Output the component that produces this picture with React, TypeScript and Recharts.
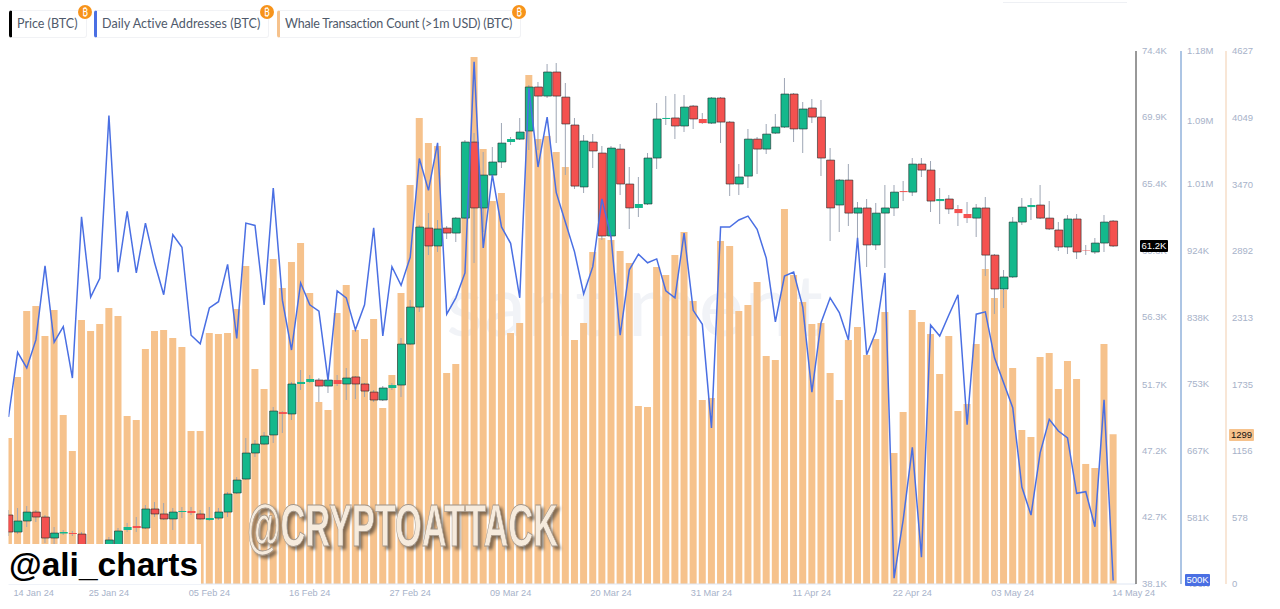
import React from 'react';
import { ComposedChart, Bar, Line, XAxis, YAxis, Cell } from 'recharts';

// day 0 is 14 Jan 24, one entry per day up to 14 May 24
const opens = [
  42.80, 41.64, 42.39, 43.00, 42.66, 41.23, 41.54, 41.57, 41.50, 40.28, 40.55, 39.73, 40.55, 41.78, 42.05, 41.91,
  43.21, 42.87, 42.53, 43.00, 43.07, 42.87, 42.46, 42.59, 43.00, 44.30, 45.25, 47.02, 47.63, 48.25, 49.81, 49.68,
  51.72, 51.86, 51.99, 51.58, 51.99, 51.72, 52.20, 51.72, 51.17, 50.63, 51.45, 51.65, 54.44, 56.96, 62.34, 61.12,
  62.34, 62.00, 63.02, 68.20, 63.71, 65.95, 66.84, 68.20, 68.40, 68.95, 71.95, 71.33, 72.97, 71.26, 69.36, 65.14,
  68.20, 67.45, 61.80, 67.72, 65.34, 63.71, 63.98, 67.11, 69.77, 69.84, 69.29, 70.65, 69.77, 69.49, 71.20, 69.56,
  65.34, 65.88, 68.40, 67.72, 68.81, 69.22, 71.47, 69.09, 70.52, 69.90, 66.97, 63.91, 65.61, 63.36, 63.71, 61.19,
  63.36, 63.71, 64.86, 64.79, 66.70, 66.29, 64.18, 64.32, 63.64, 63.30, 63.02, 63.71, 60.50, 58.19, 59.01, 62.75,
  63.77, 63.91, 63.02, 62.21, 61.05, 62.96, 60.84, 60.71, 61.32, 62.82,
];
const closes = [
  41.64, 42.39, 43.00, 42.66, 41.23, 41.57, 41.64, 41.50, 40.55, 40.55, 39.73, 41.10, 41.71, 41.98, 41.91, 43.21,
  42.87, 42.53, 43.00, 43.07, 42.93, 42.53, 42.59, 43.00, 44.23, 45.18, 47.02, 47.63, 48.18, 49.88, 49.68, 51.72,
  51.86, 52.06, 51.58, 51.99, 51.72, 52.13, 51.72, 51.24, 50.63, 51.45, 51.65, 54.44, 56.96, 62.41, 61.12, 62.28,
  62.00, 63.02, 68.20, 63.71, 65.95, 66.84, 68.13, 68.40, 68.88, 71.95, 71.33, 72.97, 71.33, 69.43, 65.20, 68.27,
  67.59, 61.80, 67.79, 65.34, 63.71, 63.98, 67.11, 69.77, 69.84, 69.29, 70.58, 69.77, 69.49, 71.20, 69.56, 65.34,
  65.82, 68.40, 67.72, 68.74, 69.22, 71.47, 69.09, 70.45, 69.90, 67.11, 63.71, 65.61, 63.36, 63.71, 61.19, 63.36,
  63.71, 64.79, 64.79, 66.70, 66.29, 64.18, 64.32, 63.64, 63.36, 63.02, 63.71, 60.50, 58.19, 59.01, 62.75, 63.77,
  63.91, 63.02, 62.28, 61.05, 62.96, 60.71, 60.81, 61.32, 62.75, 61.12,
];
const highs = [
  43.14, 43.28, 43.41, 43.14, 42.80, 41.98, 41.78, 41.71, 41.64, 40.76, 40.76, 41.30, 41.91, 42.25, 42.66, 43.48,
  43.68, 43.62, 43.28, 43.34, 43.34, 43.14, 43.34, 43.28, 44.37, 45.39, 48.04, 47.91, 48.45, 50.15, 49.88, 51.86,
  52.67, 52.33, 52.13, 52.13, 52.33, 52.81, 52.27, 51.79, 51.31, 51.58, 51.79, 54.85, 57.44, 62.55, 63.36, 62.89,
  62.48, 63.09, 68.34, 68.81, 67.52, 67.86, 69.49, 68.54, 69.83, 72.08, 72.29, 73.51, 73.58, 72.22, 69.83, 68.68,
  68.74, 67.93, 67.93, 68.06, 66.50, 65.82, 67.45, 70.86, 71.33, 71.47, 71.40, 70.72, 70.17, 71.26, 71.26, 69.63,
  66.70, 69.09, 68.54, 69.43, 70.11, 72.56, 71.54, 70.92, 71.13, 71.06, 67.79, 65.68, 66.70, 64.11, 64.32, 64.05,
  65.27, 65.27, 65.54, 67.11, 67.11, 66.91, 65.07, 64.59, 63.91, 64.11, 63.98, 64.45, 60.57, 59.48, 63.09, 64.39,
  64.39, 65.27, 64.18, 62.75, 63.23, 63.30, 61.19, 61.66, 63.23, 62.89,
];
const lows = [
  41.37, 41.50, 41.98, 42.32, 40.89, 40.76, 41.44, 41.37, 40.28, 40.01, 39.50, 39.50, 40.28, 41.64, 41.64, 41.84,
  42.66, 42.46, 41.78, 42.59, 42.80, 42.46, 42.39, 42.46, 42.66, 44.23, 45.18, 46.75, 47.56, 47.70, 48.38, 49.27,
  51.31, 51.79, 50.49, 51.11, 51.58, 50.63, 50.70, 50.83, 50.49, 50.56, 51.31, 50.83, 54.37, 56.62, 60.50, 60.71,
  61.59, 61.39, 62.96, 59.96, 62.07, 65.82, 66.43, 68.00, 68.34, 67.65, 67.65, 71.20, 68.13, 65.95, 65.00, 64.73,
  66.43, 61.53, 61.66, 64.59, 62.28, 63.09, 63.91, 66.36, 69.36, 68.40, 68.88, 69.09, 69.43, 69.43, 68.13, 64.52,
  64.59, 65.07, 66.02, 67.38, 68.74, 69.15, 68.20, 67.45, 69.49, 65.88, 61.46, 62.07, 62.48, 61.53, 59.69, 60.84,
  59.62, 63.16, 64.18, 64.52, 65.82, 63.43, 62.62, 63.30, 62.48, 62.68, 61.73, 59.07, 56.49, 56.90, 58.94, 62.55,
  62.89, 62.96, 62.21, 60.78, 60.57, 60.23, 60.50, 60.57, 60.71, 61.05,
];
const activeAddresses = [
  710, 793, 773, 809, 904, 806, 826, 760, 967, 864, 888, 1097, 896, 974, 895, 959,
  908, 867, 944, 928, 815, 804, 850, 858, 906, 811, 959, 956, 854, 1004, 860, 796,
  882, 854, 846, 757, 872, 863, 822, 854, 953, 814, 903, 879, 915, 1042, 1001, 1062,
  842, 863, 895, 1166, 927, 1021, 954, 933, 863, 1132, 1031, 1095, 998, 960, 922, 868,
  903, 990, 941, 815, 899, 919, 908, 913, 872, 863, 946, 847, 829, 696, 954, 954,
  963, 968, 951, 914, 832, 891, 896, 851, 742, 831, 863, 844, 809, 940, 790, 819,
  895, 503, 578, 671, 530, 828, 814, 841, 867, 700, 842, 845, 786, 754, 722, 620,
  584, 664, 707, 692, 683, 612, 614, 569, 732, 500,
];
const whaleCount = [
  1267, 1797, 2370, 2413, 2153, 2378, 1467, 1154, 2292, 2196, 2257, 2396, 2326, 1458, 1424, 2040,
  2196, 2205, 2135, 2057, 1328, 1328, 2179, 2170, 2179, 2387, 2760, 1866, 1693, 2821, 2569, 2795,
  2960, 2526, 1580, 1510, 2352, 2595, 2205, 2127, 2300, 1528, 1814, 2526, 3463, 4045, 3828, 3802,
  1831, 1910, 3333, 4574, 3776, 3324, 3394, 2179, 2265, 4418, 3863, 3889, 3750, 3620, 2118, 2265,
  2882, 3003, 2986, 2890, 2786, 1545, 1536, 2752, 2682, 2856, 3055, 2456, 1597, 1614, 2977, 2934,
  2370, 2422, 2621, 1979, 1944, 3255, 2682, 2448, 2257, 2265, 1831, 1597, 2118, 2231, 1988, 2127,
  2361, 1137, 1493, 2378, 2274, 2170, 1823, 2153, 1502, 1562, 2083, 2734, 2482, 2552, 1875, 1337,
  1276, 1970, 2005, 1693, 1936, 1779, 1042, 1007, 2083, 1299,
];

const xTicks = [0, 11, 22, 33, 44, 55, 66, 77, 88, 99, 110, 121];
const xLabels = [
  '14 Jan 24', '25 Jan 24', '05 Feb 24', '16 Feb 24', '27 Feb 24', '09 Mar 24',
  '20 Mar 24', '31 Mar 24', '11 Apr 24', '22 Apr 24', '03 May 24', '14 May 24',
];
const priceTicks = [38.1, 42.7, 47.2, 51.7, 56.3, 60.8, 65.4, 69.9, 74.4];
const addressTicks = [495.5, 581, 667, 753, 838, 924, 1010, 1090, 1180];
const whaleTicks = [0, 578, 1156, 1735, 2313, 2892, 3470, 4049, 4627];

const legendItems = [
  { name: 'Price (BTC)', color: '#000000', left: 9, width: 78, spacing: 0 },
  { name: 'Daily Active Addresses (BTC)', color: '#4a6fe3', left: 94, width: 175, spacing: 0.05 },
  { name: 'Whale Transaction Count (>1m USD) (BTC)', color: '#f6c28c', left: 277, width: 244, spacing: -0.18 },
];

const GREEN = '#14b88c';
const RED = '#f4514f';
const ORANGE = '#f6c28c';
const BLUE = '#4a6fe3';
const TICK_COLOR = '#a7b2c9';

const chartData = whaleCount.map((whale, i) => ({
  day: i,
  whale,
  addresses: activeAddresses[i],
  wick: [lows[i], highs[i]],
  body: [Math.min(opens[i], closes[i]), Math.max(opens[i], closes[i])],
}));

const formatAddress = (v: number) => (v >= 1000 ? `${(v / 1000).toFixed(2)}M` : `${Math.round(v)}K`);

const DateTick = ({ x, y, payload, index }: any) => {
  const label = xLabels[xTicks.indexOf(payload.value)];
  // first and last labels are pushed inside, as on the original
  const isEdge = index === 0 || index === xTicks.length - 1;
  const dx = index === 0 ? 5 : index === xTicks.length - 1 ? -1 : 0;
  return (
    <text x={x + dx} y={y + 12} fontSize={9.2} fill={TICK_COLOR} textAnchor={isEdge ? 'start' : 'middle'}>
      {label}
    </text>
  );
};

const Tag = ({ left, top, width, bg, color, children }: any) => (
  <div
    style={{
      position: 'absolute', left, top, width, height: 12, background: bg, color,
      fontSize: 9.5, lineHeight: '12px', textAlign: 'center', borderRadius: 1,
    }}
  >
    {children}
  </div>
);

export default function App() {
  return (
    <div style={{ position: 'absolute', left: 0, top: 0, width: 1280, height: 609, fontFamily: '"Liberation Sans", Arial, sans-serif', overflow: 'hidden' }}>
      <div style={{ position: 'absolute', left: 1003, top: 0, width: 124, height: 2, borderBottom: '1px solid #eef0f4' }} />
      <div style={{ position: 'absolute', left: 446, top: 252, fontFamily: 'Lato', fontSize: 85, letterSpacing: 1, color: '#f1f3f7' }}>santiment</div>

      {legendItems.map((item) => (
        <div
          key={item.name}
          style={{
            position: 'absolute', left: item.left, top: 10, width: item.width, height: 28, boxSizing: 'border-box',
            border: '1px solid #f1f2f5', borderLeft: `3.5px solid ${item.color}`, borderRadius: 3,
            fontFamily: 'Lato', fontSize: 12.5, letterSpacing: item.spacing, color: '#4f5a6b', lineHeight: '26px', paddingLeft: 5, whiteSpace: 'nowrap',
          }}
        >
          {item.name}
          <span
            style={{
              position: 'absolute', right: -6, top: -6, width: 14, height: 14, borderRadius: 7, background: '#f7931a',
              color: '#fff', fontFamily: '"Noto Sans"', fontSize: 10, lineHeight: '14px', textAlign: 'center',
            }}
          >
            ₿
          </span>
        </div>
      ))}

      <div style={{ position: 'absolute', left: 0, top: 0 }}>
        <ComposedChart width={1280} height={609} data={chartData} margin={{ top: 51, right: 9, left: 8.5, bottom: 0 }}>
          <XAxis
            xAxisId="a_main" dataKey="day" type="number" domain={[0, 123.5]} allowDataOverflow
            ticks={xTicks} interval={0} height={25} tick={<DateTick />} tickLine={false} tickSize={0} tickMargin={0}
            axisLine={{ stroke: '#dfe6f2' }}
          />
          <XAxis xAxisId="b_wick" dataKey="day" type="number" domain={[0, 123.5]} allowDataOverflow hide />
          <XAxis xAxisId="c_candle" dataKey="day" type="number" domain={[0, 123.5]} allowDataOverflow hide />
          <YAxis
            yAxisId="a_price" orientation="right" width={45} domain={[38.1, 74.4]} ticks={priceTicks} interval={0}
            tickFormatter={(v) => `${v.toFixed(1)}K`} tick={{ fontSize: 9.5, fill: TICK_COLOR, textAnchor: 'start' }}
            tickSize={0} tickMargin={6} axisLine={{ stroke: '#333333' }}
          />
          <YAxis
            yAxisId="b_addresses" orientation="right" width={45} domain={[495.5, 1180]} ticks={addressTicks} interval={0}
            tickFormatter={formatAddress} tick={{ fontSize: 9.5, fill: TICK_COLOR, textAnchor: 'start' }}
            tickSize={0} tickMargin={6} axisLine={{ stroke: '#5b8bc9' }}
          />
          <YAxis
            yAxisId="c_whale" orientation="right" width={45} domain={[0, 4627]} ticks={whaleTicks} interval={0}
            tick={{ fontSize: 9.5, fill: TICK_COLOR, textAnchor: 'start' }}
            tickSize={0} tickMargin={6} axisLine={{ stroke: '#f8e6d6', strokeWidth: 2 }}
          />
          <Bar xAxisId="a_main" yAxisId="c_whale" dataKey="whale" fill={ORANGE} barSize={7} isAnimationActive={false} />
          <Bar xAxisId="b_wick" yAxisId="a_price" dataKey="wick" fill="#9ea6b5" barSize={1} isAnimationActive={false} />
          <Bar xAxisId="c_candle" yAxisId="a_price" dataKey="body" barSize={8} isAnimationActive={false}>
            {chartData.map((d, i) => (
              <Cell
                key={d.day}
                fill={closes[i] >= opens[i] ? GREEN : RED}
                stroke={d.body[1] - d.body[0] < 0.3 ? 'none' : '#1d2a2a'}
                strokeWidth={0.6}
              />
            ))}
          </Bar>
          <Line
            xAxisId="a_main" yAxisId="b_addresses" dataKey="addresses" stroke={BLUE} strokeWidth={1.5}
            dot={false} activeDot={false} isAnimationActive={false}
          />
        </ComposedChart>
      </div>

      <Tag left={1140} top={240} width={28} bg="#000000" color="#ffffff">61.2K</Tag>
      <Tag left={1185} top={574} width={25} bg={BLUE} color="#ffffff">500K</Tag>
      <Tag left={1229} top={429} width={25} bg={ORANGE} color="#111111">1299</Tag>

      <svg width={1280} height={609} style={{ position: 'absolute', left: 0, top: 0, pointerEvents: 'none' }}>
        <text
          x={247} y={546} fontSize={60} fontWeight={700} textLength={311} lengthAdjust="spacingAndGlyphs"
          fill="#f6ebdd" stroke="#a3968a" strokeWidth={0.8}
          style={{ filter: 'drop-shadow(3px 3px 1.5px rgba(80,68,56,0.7))' }}
        >
          @CRYPTOATTACK
        </text>
      </svg>

      <div
        style={{
          position: 'absolute', left: 0, top: 544, width: 201, height: 40, background: '#ffffff', color: '#000000',
          fontWeight: 700, fontSize: 33.5, lineHeight: '42px', paddingLeft: 9, boxSizing: 'border-box', whiteSpace: 'nowrap',
        }}
      >
        @ali_charts
      </div>
    </div>
  );
}
